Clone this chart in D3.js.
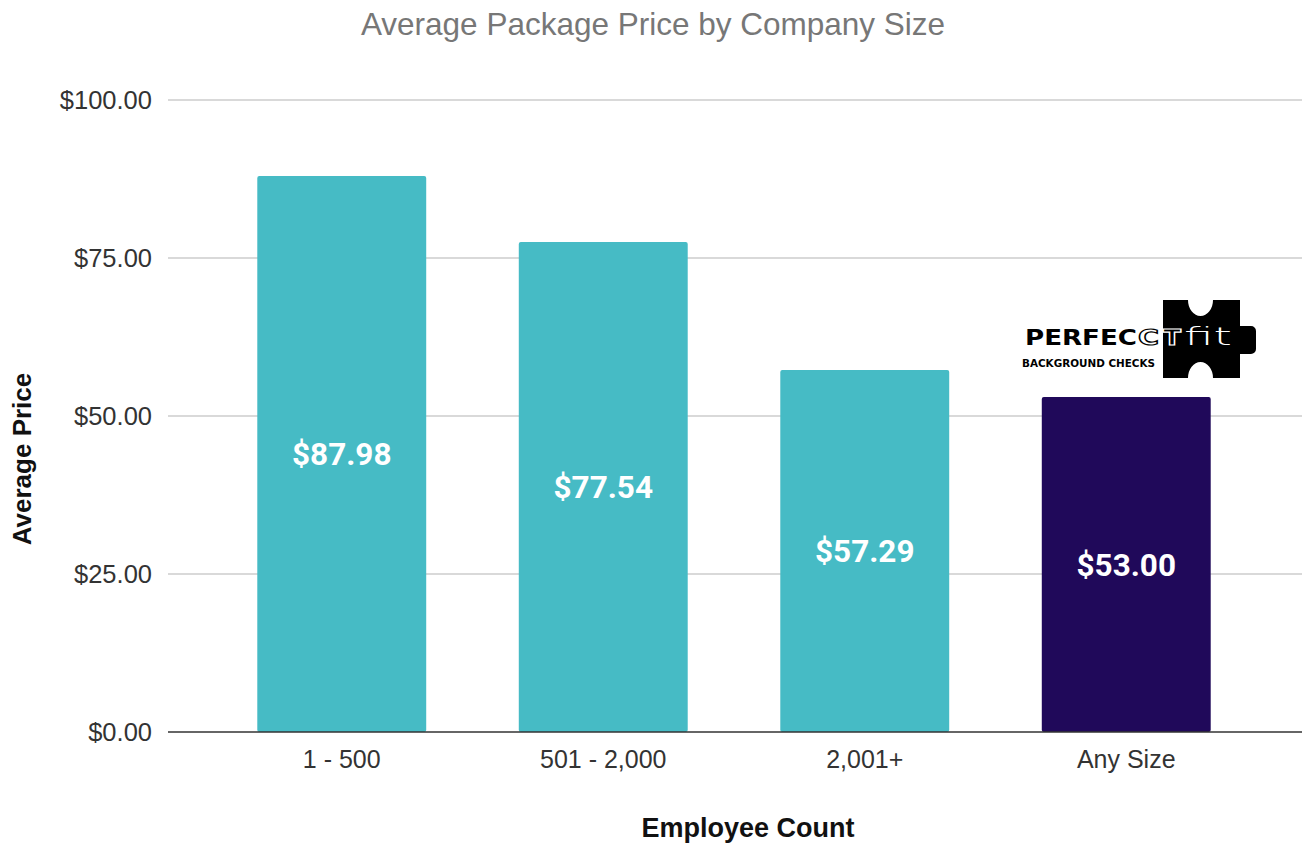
<!DOCTYPE html>
<html>
<head>
<meta charset="utf-8">
<script src="https://cdn.jsdelivr.net/npm/d3@7"></script>
<style>
  body { margin: 0; background: #fff; }
  svg { display: block; }
</style>
</head>
<body>
<div id="wrapper"></div>
<script>
// chart data
const categories = ["1 - 500", "501 - 2,000", "2,001+", "Any Size"]
const prices = [87.98, 77.54, 57.29, 53.00]
const yTicks = [0, 25, 50, 75, 100]
const highlight = "Any Size"

function drawBarChart() {
    const dims = {
        width: 1302,
        height: 844,
        margin: { top: 100, right: 0, bottom: 112, left: 168 }
    }
    dims.boundWidth = dims.width - dims.margin.left - dims.margin.right
    dims.boundHeight = dims.height - dims.margin.top - dims.margin.bottom

    const svg = d3.select("#wrapper")
        .append("svg")
            .attr("width", dims.width)
            .attr("height", dims.height)

    const bound = svg.append("g")
        .attr("transform", `translate(${dims.margin.left},${dims.margin.top})`)

    // scales
    const yScale = d3.scaleLinear()
        .domain([0, 100])
        .range([dims.boundHeight, 0])

    const xScale = d3.scaleBand()
        .domain(categories)
        .range([43, dims.boundWidth - 45])
        .paddingInner(0.354)
        .paddingOuter(0.177)

    // gridlines
    bound.append("g")
        .selectAll("line")
        .data(yTicks.filter(d => d > 0))
        .join("line")
            .attr("x1", 0)
            .attr("x2", dims.boundWidth)
            .attr("y1", d => yScale(d))
            .attr("y2", d => yScale(d))
            .attr("stroke", "#cccccc")
            .attr("stroke-width", 1.3)

    // y axis labels
    const yAxis = d3.axisLeft(yScale)
        .tickValues(yTicks)
        .tickSize(0)
        .tickPadding(16)
        .tickFormat(d => "$" + d3.format(".2f")(d))
    bound.append("g")
        .call(yAxis)
        .call(g => g.select(".domain").remove())
        .call(g => g.selectAll("text")
            .attr("font-family", "Liberation Sans, Arial, sans-serif")
            .attr("font-size", 25.5)
            .attr("fill", "#333"))

    // bars
    const data = categories.map((c, i) => ({ cat: c, value: prices[i] }))
    bound.append("g")
        .selectAll("rect")
        .data(data)
        .join("rect")
            .attr("x", d => xScale(d.cat))
            .attr("width", xScale.bandwidth())
            .attr("y", d => yScale(d.value))
            .attr("height", d => dims.boundHeight - yScale(d.value))
            .attr("rx", 2)
            .attr("fill", d => d.cat === highlight ? "#20095a" : "#46bbc5")

    // value labels in the middle of each bar
    bound.append("g")
        .selectAll("text")
        .data(data)
        .join("text")
            .attr("x", d => xScale(d.cat) + xScale.bandwidth() / 2)
            .attr("y", d => (yScale(d.value) + dims.boundHeight) / 2)
            .attr("dy", "0.36em")
            .attr("text-anchor", "middle")
            .attr("font-family", "Roboto, sans-serif")
            .attr("font-weight", "bold")
            .attr("font-size", 31.5)
            .attr("fill", "#ffffff")
            .text(d => "$" + d3.format(".2f")(d.value))

    // baseline
    bound.append("line")
        .attr("x1", 0)
        .attr("x2", dims.boundWidth)
        .attr("y1", dims.boundHeight)
        .attr("y2", dims.boundHeight)
        .attr("stroke", "#333")
        .attr("stroke-width", 1.5)

    // x axis labels
    const xAxis = d3.axisBottom(xScale).tickSize(0).tickPadding(18)
    bound.append("g")
        .attr("transform", `translate(0,${dims.boundHeight})`)
        .call(xAxis)
        .call(g => g.select(".domain").remove())
        .call(g => g.selectAll("text")
            .attr("font-family", "Liberation Sans, Arial, sans-serif")
            .attr("font-size", 25)
            .attr("fill", "#333"))

    // title
    svg.append("text")
        .attr("x", 653)
        .attr("y", 35)
        .attr("text-anchor", "middle")
        .attr("font-family", "Liberation Sans, Arial, sans-serif")
        .attr("font-size", 31.5)
        .attr("fill", "#777777")
        .text("Average Package Price by Company Size")

    // axis titles
    svg.append("text")
        .attr("x", 748)
        .attr("y", 837)
        .attr("text-anchor", "middle")
        .attr("font-family", "Liberation Sans, Arial, sans-serif")
        .attr("font-weight", "bold")
        .attr("font-size", 27)
        .attr("fill", "#111")
        .text("Employee Count")

    svg.append("text")
        .attr("transform", "translate(31,459) rotate(-90)")
        .attr("text-anchor", "middle")
        .attr("font-family", "Liberation Sans, Arial, sans-serif")
        .attr("font-weight", "bold")
        .attr("font-size", 26)
        .attr("fill", "#111")
        .text("Average Price")

    // logo (decoration)
    const logo = svg.append("g").attr("transform", "translate(1018,300)")
    logo.append("path")
        .attr("transform", "translate(145,0)")
        .attr("d", "M0,0 H25 A12.5,16 0 0 0 50,0 H77 V26 H88 A5,5 0 0 1 93,31 V49 A5,5 0 0 1 88,54 H77 V78 H50 A12.5,16 0 0 0 25,78 H0 Z")
        .attr("fill", "#000")
    const logoText = (x, txt, len) => logo.append("text")
        .attr("x", x)
        .attr("y", 45)
        .attr("font-family", "DejaVu Sans, sans-serif")
        .attr("font-weight", "bold")
        .attr("font-size", 21)
        .attr("textLength", len)
        .attr("lengthAdjust", "spacingAndGlyphs")
        .text(txt)
    logoText(7, "PERFEC", 112).attr("fill", "#000")
    logoText(120, "C", 21).attr("fill", "#fff").attr("stroke", "#000").attr("stroke-width", 1.2)
    logoText(145, "T", 18).attr("fill", "#000").attr("stroke", "#fff").attr("stroke-width", 1.2)
    logo.append("text")
        .attr("x", 166)
        .attr("y", 45)
        .attr("font-family", "DejaVu Sans, sans-serif")
        .attr("font-weight", "200")
        .attr("font-size", 25)
        .attr("textLength", 48)
        .attr("lengthAdjust", "spacingAndGlyphs")
        .attr("fill", "#fff")
        .text("fit")
    logo.append("text")
        .attr("x", 4)
        .attr("y", 67)
        .attr("font-family", "DejaVu Sans, sans-serif")
        .attr("font-weight", "bold")
        .attr("font-size", 10)
        .attr("textLength", 133)
        .attr("lengthAdjust", "spacingAndGlyphs")
        .attr("fill", "#000")
        .text("BACKGROUND CHECKS")
}

drawBarChart()
</script>
</body>
</html>
